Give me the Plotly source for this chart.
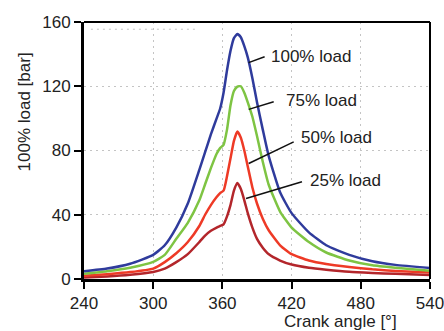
import plotly.graph_objects as go

angle = [240, 260, 280, 300, 310, 320, 330, 340, 345, 350, 355, 358, 361, 364, 367, 370,
         373, 376, 379, 382, 386, 390, 395, 400, 410, 420, 435, 450, 470, 490, 510, 540]

load_100 = [4.8, 6.5, 9.5, 15, 21, 32, 47, 68, 79, 90, 100, 106, 116, 130, 142, 150,
            152.5, 150.5, 145, 138, 125, 110, 93, 77, 54, 41, 29, 21, 15, 11, 8.8, 6.9]
load_75 = [3.2, 4.8, 7, 10.6, 15, 25, 35, 49, 59, 69, 78, 81.5, 83.5, 93, 108, 117,
           119.8, 120, 116, 110, 101, 89, 73, 59, 42, 32, 23, 16.5, 11.5, 8.5, 7, 5.2]
load_50 = [2, 3, 4.3, 6.5, 10.5, 16, 23, 33, 40, 46, 51, 53.5, 55, 64, 75, 86,
           91.8, 88, 80, 70, 57, 47, 37.5, 30.5, 21, 15.5, 11.5, 9.3, 7.5, 6, 5, 4]
load_25 = [1, 1.6, 2.6, 4.4, 6.5, 10.5, 15.5, 23, 27, 30, 32, 33, 34, 39, 46, 55,
           59.7, 56, 49, 41, 32, 25, 19.5, 15.5, 11.5, 9, 7, 5.8, 4.5, 3.8, 3.2, 2.5]

series_names = ["25% load", "50% load", "75% load", "100% load"]
series_values = [load_25, load_50, load_75, load_100]
series_colors = ["#b3262b", "#ee3a26", "#7ec443", "#2f3b9c"]

x_ticks = [240, 300, 360, 420, 480, 540]
y_ticks = [0, 40, 80, 120, 160]

# label text anchor (angle, value) and leader line (from, to)
label_pos = {
    "100% load": (400.1, 138.8, 382.7, 134.7, 396.6, 138.4),
    "75% load": (413.2, 111.0, 382.8, 105.6, 404.5, 110.3),
    "50% load": (426.7, 88.2, 382.8, 71.9, 421.8, 85.4),
    "25% load": (434.2, 61.5, 380.5, 50.1, 429.0, 60.5),
}

fig = go.Figure()
for name, vals, col in zip(series_names, series_values, series_colors):
    fig.add_trace(go.Scatter(x=angle, y=vals, mode="lines", name=name,
                             line=dict(color=col, width=2.5, shape="spline", smoothing=0.5)))

font_main = dict(family="Liberation Sans, Arial, sans-serif", size=17, color="#222222")

for name, (tx, ty, x0, y0, x1, y1) in label_pos.items():
    fig.add_shape(type="line", x0=x0, y0=y0, x1=x1, y1=y1, xref="x", yref="y",
                  line=dict(color="#111111", width=1.5))
    fig.add_annotation(x=tx, y=ty, xref="x", yref="y", text=name, showarrow=False,
                       xanchor="left", yanchor="middle", font=font_main)

# partial dotted line near top
fig.add_shape(type="line", x0=246, x1=337, y0=155.5, y1=155.5, xref="x", yref="y",
              line=dict(color="#c4c4c4", width=1, dash="2px,4px"), layer="below")

# top & right frame
fig.add_shape(type="line", x0=0, x1=1, y0=1, y1=1, xref="paper", yref="paper",
              line=dict(color="black", width=2))
fig.add_shape(type="line", x0=1, x1=1, y0=0, y1=1, xref="paper", yref="paper",
              line=dict(color="black", width=2))

fig.add_annotation(x=0.9095, y=-0.166, xref="paper", yref="paper", text="Crank angle [°]",
                   showarrow=False, xanchor="right", yanchor="middle", font=font_main)
fig.add_annotation(x=-0.1734, y=0.648, xref="paper", yref="paper", text="100% load [bar]",
                   showarrow=False, textangle=-90, xanchor="center", yanchor="middle", font=font_main)

fig.update_layout(
    width=444, height=331,
    margin=dict(l=84, r=14, t=22, b=52, autoexpand=False),
    paper_bgcolor="white", plot_bgcolor="white",
    showlegend=False,
    font=font_main,
)
fig.update_xaxes(range=[239.999, 540.001], tickvals=x_ticks, ticktext=[str(v) for v in x_ticks],
                 showline=True, linecolor="black", linewidth=3,
                 ticks="outside", ticklen=7, tickwidth=2, tickcolor="black",
                 showgrid=True, gridcolor="#c4c4c4", gridwidth=1, griddash="2px,4px",
                 zeroline=False, tickfont=font_main, ticklabeloverflow="allow", automargin=False)
fig.update_yaxes(range=[0, 160], tickvals=y_ticks, ticktext=[str(v) for v in y_ticks],
                 showline=True, linecolor="black", linewidth=3,
                 ticks="outside", ticklen=7, tickwidth=2, tickcolor="black",
                 showgrid=True, gridcolor="#c4c4c4", gridwidth=1, griddash="2px,4px",
                 zeroline=False, tickfont=font_main, automargin=False)

fig.write_html("out.html")
